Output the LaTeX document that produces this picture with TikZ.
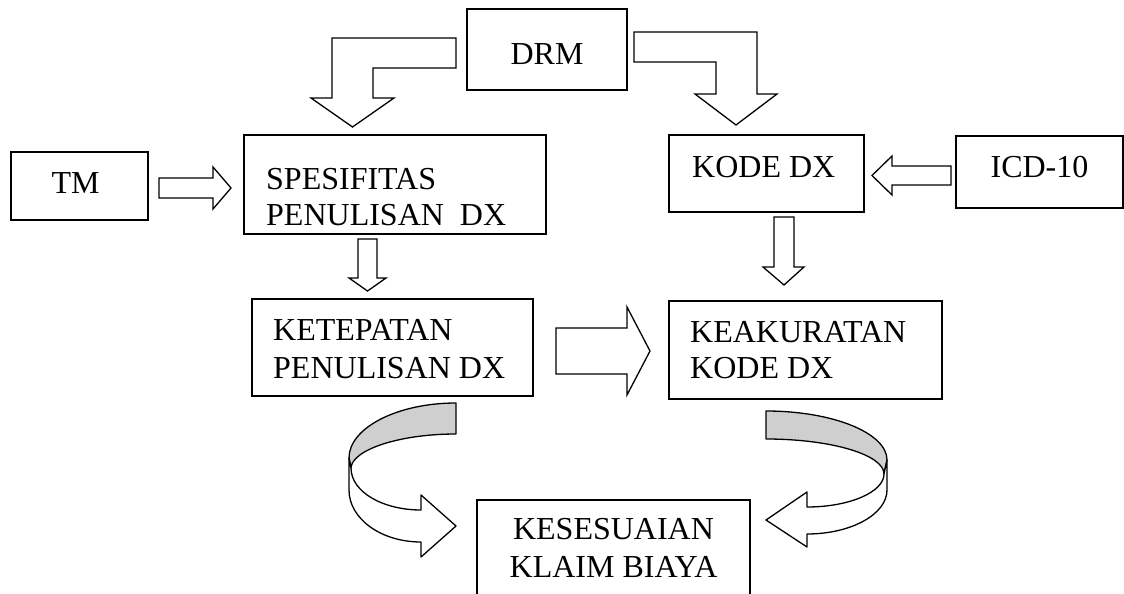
\documentclass[tikz,border=0pt]{standalone}
\usepackage{fontspec}
\setmainfont{Liberation Serif}
\begin{document}
\begin{tikzpicture}[x=1pt,y=-1pt,
  box/.style={draw=black,line width=1.5pt,inner sep=0pt,fill=white},
  lbl/.style={inner sep=0pt,font=\fontsize{32}{38}\selectfont},
  blk/.style={draw=black,line width=1.3pt,fill=white,line join=miter},
  backface/.style={draw=black,line width=1.3pt,fill=black!19,line join=round}]
\useasboundingbox (0,0) rectangle (1124,594);
\clip (0,0) rectangle (1124,594);

% boxes
\node[box,minimum width=137,minimum height=68] (tm) at (79.5,186) {};
\node[box,minimum width=302,minimum height=99] (spes) at (395,184.5) {};
\node[box,minimum width=281,minimum height=97] (ketep) at (392.5,347.5) {};
\node[box,minimum width=160,minimum height=81] (drm) at (547,49.5) {};
\node[box,minimum width=195,minimum height=77] (kode) at (766.5,173.5) {};
\node[box,minimum width=167,minimum height=72] (icd) at (1039.5,172) {};
\node[box,minimum width=273,minimum height=98] (keak) at (805.5,350) {};
\node[box,minimum width=273,minimum height=120] (kes) at (613.5,560) {};

% texts
\node[lbl,anchor=base] (tmT) at (75.5,193) {TM};
\node[lbl,anchor=base west] (spesT1) at (266,189) {SPESIFITAS};
\node[lbl,anchor=base west] (spesT2) at (266,225) {PENULISAN\ \ DX};
\node[lbl,anchor=base west] (ketepT1) at (273,340) {KETEPATAN};
\node[lbl,anchor=base west] (ketepT2) at (273,378) {PENULISAN DX};
\node[lbl,anchor=base] (drmT) at (547,65) {DRM};
\node[lbl,anchor=base west] (kodeT) at (692,177) {KODE DX};
\node[lbl,anchor=base] (icdT) at (1039.5,177) {ICD-10};
\node[lbl,anchor=base west] (keakT1) at (690,342) {KEAKURATAN};
\node[lbl,anchor=base west] (keakT2) at (690,378) {KODE DX};
\node[lbl,anchor=base] (kesT1) at (613.5,539) {KESESUAIAN};
\node[lbl,anchor=base] (kesT2) at (613.5,577) {KLAIM BIAYA};

% straight block arrows
\draw[blk] (159,178) -- (213,178) -- (213,167) -- (231,188) -- (213,209) -- (213,198) -- (159,198) -- cycle;
\draw[blk] (358,239) -- (377,239) -- (377,278) -- (386,278) -- (367.5,291) -- (349,278) -- (358,278) -- cycle;
\draw[blk] (951,166) -- (892,166) -- (892,156) -- (872,175.5) -- (892,195) -- (892,185) -- (951,185) -- cycle;
\draw[blk] (774,217) -- (794,217) -- (794,267) -- (804,267) -- (784,285) -- (763,267) -- (774,267) -- cycle;
\draw[blk] (556,328) -- (627,328) -- (627,307) -- (650,351) -- (627,395) -- (627,374) -- (556,374) -- cycle;

% bent arrows from DRM
\draw[blk] (456,38) -- (332,38) -- (332,98) -- (311,98) -- (352.5,127) -- (394,98) -- (373,98) -- (373,68) -- (456,68) -- cycle;
\draw[blk] (634,32) -- (757,32) -- (757,94) -- (777,94) -- (736,125) -- (695,94) -- (716,94) -- (716,62) -- (634,62) -- cycle;

% left curved arrow
\draw[backface] (456,403) .. controls (397,403) and (349,428) .. (349,458)
  -- (351,468) .. controls (352,450) and (398.6,434) .. (456,434) -- cycle;
\draw[blk,line join=round] (349,458) -- (349,490) .. controls (349,518.7) and (381,542) .. (421,542)
  -- (421,557) -- (456,526) -- (421,495) -- (421,510)
  .. controls (383,510) and (351,492) .. (351,468) -- cycle;

% right curved arrow
\draw[backface] (766,411) .. controls (832.8,411) and (887,433) .. (887,460)
  -- (884,474) .. controls (884,454.7) and (831,439) .. (766,439) -- cycle;
\draw[blk,line join=round] (887,460) -- (887,490) .. controls (887,514.3) and (851,534) .. (807,534)
  -- (807,547) -- (766,520) -- (807,492) -- (807,507)
  .. controls (849.5,507) and (884,492) .. (884,474) -- cycle;
\end{tikzpicture}
\end{document}
